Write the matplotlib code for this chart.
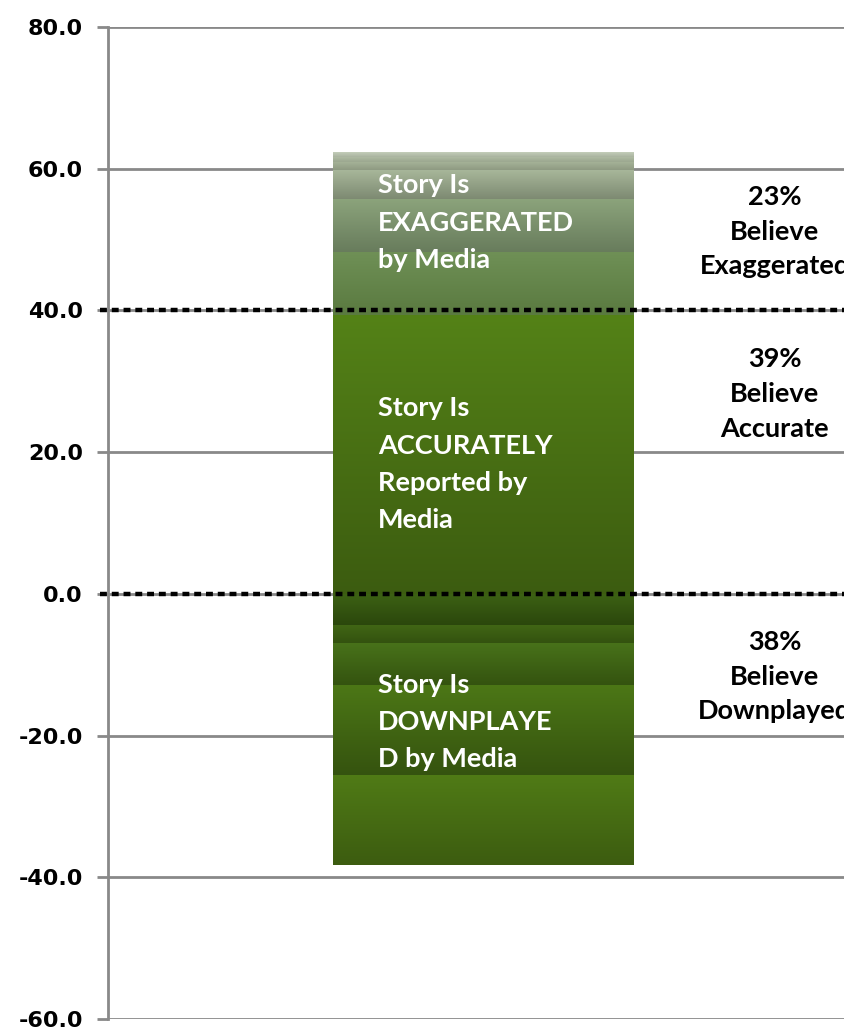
import matplotlib
matplotlib.use("Agg")
import matplotlib.pyplot as plt
import numpy as np
from matplotlib.colors import LinearSegmentedColormap

# ---------------- data ----------------
# stacked segments of the single bar (bottom-up from 0 for positives, top-down from 0 for negatives)
positive_segments = [39.4, 8.8, 7.5, 4.1, 1.1, 0.8, 0.6]
negative_segments = [-4.4, -2.5, -5.9, -12.7, -12.8]
bar_labels = ["Story Is\nEXAGGERATED\nby Media",
              "Story Is\nACCURATELY\nReported by\nMedia",
              "Story Is\nDOWNPLAYE\nD by Media"]
bar_label_y = [52.4, 18.3, -18.1]
side_labels = ["23%\nBelieve\nExaggerated", "39%\nBelieve\nAccurate", "38%\nBelieve\nDownplayed"]
side_label_y = [51.1, 28.2, -11.7]
ref_lines = [40.0, 0.0]
yticks = [-60, -40, -20, 0, 20, 40, 60, 80]

# ---------------- styles ----------------
pos_colors = [("#548217", "#3c5c10"),
              ("#6f9056", "#5a7a40"),
              ("#8ca47c", "#687c5c"),
              ("#a9b89b", "#7d8a72"),
              ("#a5b297", "#8e9a82"),
              ("#b2bea6", "#9ba78f"),
              ("#c4ceba", "#a9b39f")]
neg_colors = [("#3d6214", "#2b470c"),
              ("#416615", "#33520f"),
              ("#48721a", "#34530f"),
              ("#4c7716", "#35530f"),
              ("#507b16", "#3c5c10")]

fig = plt.figure(figsize=(8.45, 10.28), dpi=100)
W, H = 845, 1028
ax_left, ax_right = 108, 870
ax_top, ax_bot = 27, 1019
ax = fig.add_axes([ax_left / W, (H - ax_bot) / H, (ax_right - ax_left) / W, (ax_bot - ax_top) / H])
ax.set_xlim(0, 1)
ax.set_ylim(-60, 80)

bar_x = 0.492
bar_w = 0.394

def grad_bar(bottom, height, ctop, cbot):
    b = ax.bar(bar_x, height, width=bar_w, bottom=bottom, color="none",
               edgecolor="none", zorder=2)[0]
    cmap = LinearSegmentedColormap.from_list("g", [cbot, ctop])
    grad = np.linspace(0, 1, 256).reshape(-1, 1)
    x0 = b.get_x()
    x1 = x0 + b.get_width()
    y0 = b.get_y()
    y1 = y0 + b.get_height()
    lo, hi = min(y0, y1), max(y0, y1)
    im = ax.imshow(grad, cmap=cmap, extent=(x0, x1, lo, hi), origin="lower",
                   aspect="auto", zorder=2, interpolation="bilinear")
    im.set_clip_path(b)

base = 0.0
for v, (ct, cb) in zip(positive_segments, pos_colors):
    grad_bar(base, v, ct, cb)
    base += v
base = 0.0
for v, (ct, cb) in zip(negative_segments, neg_colors):
    grad_bar(base, v, ct, cb)
    base += v

ax.set_xlim(0, 1)
ax.set_ylim(-60, 80)

# grid and axes
ax.set_yticks(yticks)
ax.set_yticklabels([f"{t:.1f}" for t in yticks])
ax.yaxis.grid(True, color="#898989", linewidth=2, zorder=0)
ax.set_axisbelow(True)
ax.set_xticks([])
for s in ["top", "right", "bottom"]:
    ax.spines[s].set_visible(False)
ax.spines["left"].set_color("#898989")
ax.spines["left"].set_linewidth(2)
ax.tick_params(axis="y", length=8, width=2, color="#898989", pad=10,
               labelsize=16)
for lab in ax.get_yticklabels():
    lab.set_fontweight("bold")
    lab.set_fontfamily("DejaVu Sans")

# dotted reference lines
for yv in ref_lines:
    ax.axhline(yv, color="black", linewidth=3.2, linestyle=(0, (1.55, 1.1)),
               dash_capstyle="butt", zorder=4, xmin=-0.01, clip_on=False)

# bar labels
for txt, yv in zip(bar_labels, bar_label_y):
    ax.text(0.354, yv, txt, color="white", fontsize=19.5, fontweight="bold",
            family="Lato", ha="left", va="center", linespacing=1.66, zorder=5)

# side labels
for txt, yv in zip(side_labels, side_label_y):
    ax.text(0.875, yv, txt, color="black", fontsize=19.5, fontweight="bold",
            family="Lato", ha="center", va="center", linespacing=1.53, zorder=5,
            clip_on=False)

fig.savefig("out.png", dpi=100)
